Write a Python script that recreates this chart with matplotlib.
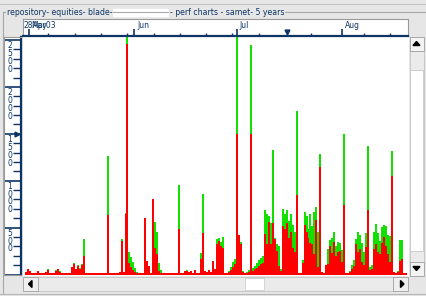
"""
Perf chart screen: stacked spikes with a date ruler on top and a value ruler on the left.
"""

import matplotlib
matplotlib.use("Agg")
import matplotlib.pyplot as plt
from matplotlib.patches import Rectangle, Polygon
import numpy as np


W, H = 426, 296
NAVY = "#0c3566"
RED = "#ff0000"
GREEN = "#11e000"
BG = "#e6e6e6"

# one sample every 14 hours, first one on 30 Apr 2003 06:00 (days after 1 May)
start_day = -0.75
step_day = 14 / 24.

total = [30, 55, 40, 20, 15, 15, 40, 15, 15, 15,
         30, 55, 20, 15, 15, 45, 60, 35, 20, 15,
         15, 15, 15, 80, 120, 60, 100, 70, 110, 376,
         20, 15, 15, 15, 15, 15, 15, 15, 15, 15,
         15, 1260, 15, 15, 15, 15, 15, 25, 380, 30,
         660, 2800, 240, 190, 130, 70, 25, 15, 15, 15,
         600, 140, 90, 20, 803, 555, 458, 120, 50, 15,
         15, 15, 15, 15, 15, 15, 15, 956, 15, 15,
         35, 45, 30, 40, 15, 50, 15, 20, 227, 860,
         40, 30, 50, 25, 145, 60, 380, 390, 350, 395,
         15, 15, 40, 80, 130, 170, 2800, 420, 350, 40,
         15, 30, 50, 2450, 70, 90, 120, 150, 180, 200,
         690, 650, 620, 550, 1330, 390, 330, 300, 60, 700,
         650, 690, 570, 640, 530, 450, 1740, 20, 15, 150,
         670, 620, 480, 650, 520, 670, 720, 450, 1280, 30,
         20, 100, 270, 370, 390, 450, 300, 350, 340, 260,
         1495, 20, 15, 40, 100, 150, 380, 450, 420, 340,
         240, 440, 1370, 80, 100, 450, 540, 440, 360, 510,
         530, 520, 420, 410, 1320, 30, 15, 40, 370, 370,
         15, 15]

part = [30, 55, 40, 20, 15, 15, 40, 15, 15, 15,
        30, 45, 20, 15, 15, 40, 55, 30, 20, 15,
        15, 15, 15, 80, 110, 60, 90, 60, 100, 202,
        20, 15, 15, 15, 15, 15, 15, 15, 15, 15,
        15, 630, 15, 15, 15, 15, 15, 25, 352, 30,
        640, 2460, 120, 80, 50, 25, 15, 15, 15, 15,
        600, 140, 90, 20, 803, 280, 220, 40, 20, 15,
        15, 15, 15, 15, 15, 15, 15, 483, 15, 15,
        35, 40, 30, 35, 15, 45, 15, 20, 170, 440,
        40, 30, 45, 25, 145, 60, 330, 360, 300, 280,
        15, 15, 25, 50, 80, 110, 1500, 420, 330, 30,
        15, 20, 30, 1500, 40, 55, 70, 90, 110, 120,
        430, 320, 560, 320, 546, 380, 250, 90, 40, 520,
        480, 550, 390, 450, 280, 240, 850, 20, 15, 120,
        530, 450, 390, 340, 320, 220, 580, 80, 1150, 30,
        20, 100, 110, 300, 230, 350, 200, 240, 250, 130,
        743, 20, 15, 30, 60, 90, 330, 240, 270, 130,
        100, 290, 690, 50, 60, 270, 330, 240, 220, 340,
        400, 300, 220, 130, 1050, 30, 15, 30, 140, 160,
        15, 15]

month_days = [0, 31, 61, 92]
month_names = ["May", "Jun", "Jul", "Aug"]
first_label = "28Apr03"
value_ticks = [0, 500, 1000, 1500, 2000, 2500]
marker_value = 1500
title_left = "repository- equities- blade-"
title_right = "- perf charts - samet- 5 years"

# screen geometry
PX_PER_DAY = 3.41
MAY1_PX = 28.6
ZERO_PX = 274.5
PX_PER_UNIT = 46.9 / 500
minor_px = [48.3, 74.6, 100.9, 127.2, 153.5, 179.8, 206.1, 232.4,
            258.7, 311.3, 363.9, 390.2]


def day_of(px):
    return (px - MAY1_PX) / PX_PER_DAY


def val_of(py):
    return (ZERO_PX - py) / PX_PER_UNIT


def axes_at(fig, x0, y0, x1, y1):
    """axes placed by screen pixels (top-left origin)"""
    return fig.add_axes([x0 / W, 1 - y1 / H, (x1 - x0) / W, (y1 - y0) / H])


def clean(ax):
    ax.set_xticks([])
    ax.set_yticks([])
    for s in ax.spines.values():
        s.set_visible(False)


def draw_frame(bg):
    """window chrome: group border, title, scrollbars"""
    bg.add_patch(Rectangle((0, 0), W, H, color=BG))
    bg.plot([0, W], [4, 4], color="#c4c4c4", lw=0.8)
    bg.plot([3, W], [12, 12], color="#a8a8a8", lw=0.8)
    bg.plot([3, 3], [12, 293], color="#a8a8a8", lw=0.8)
    bg.plot([0, W], [293.5, 293.5], color="#b4b4b4", lw=0.8)

    bg.text(7, 12.5, title_left, fontsize=5.6, color=NAVY, va="center",
            bbox=dict(facecolor=BG, edgecolor="none", pad=0.6))
    bg.add_patch(Rectangle((110, 9), 58, 7, color="white"))
    bg.text(170, 12.5, title_right, fontsize=5.6, color=NAVY, va="center",
            bbox=dict(facecolor=BG, edgecolor="none", pad=0.6))

    # horizontal scrollbar
    bg.add_patch(Rectangle((37, 277), 356, 14, facecolor="#ebebeb",
                           edgecolor="#c4c4c4", lw=0.6))
    bg.add_patch(Rectangle((245, 278), 19, 12, facecolor="white",
                           edgecolor="#d0d0d0", lw=0.6))
    for x in (23, 393):
        bg.add_patch(Rectangle((x, 277), 15, 14, facecolor="#efefef",
                               edgecolor="#a8a8a8", lw=0.7))
    bg.add_patch(Polygon([(28.5, 284), (32, 280.5), (32, 287.5)], color="black"))
    bg.add_patch(Polygon([(404, 284), (400.5, 280.5), (400.5, 287.5)], color="black"))

    # vertical scrollbar
    bg.add_patch(Rectangle((409.5, 51), 14, 211, facecolor="#ebebeb",
                           edgecolor="#c4c4c4", lw=0.6))
    bg.add_patch(Rectangle((410, 70), 13, 181, facecolor="white",
                           edgecolor="#c8c8c8", lw=0.6))
    for y in (37, 262):
        bg.add_patch(Rectangle((409.5, y), 14, 14, facecolor="#f4f4f4",
                               edgecolor="#a8a8a8", lw=0.7))
    bg.add_patch(Polygon([(416.5, 41.5), (413, 45.5), (420, 45.5)], color="black"))
    bg.add_patch(Polygon([(416.5, 270.5), (413, 266.5), (420, 266.5)], color="black"))


def main():
    fig = plt.figure(figsize=(W / 100, H / 100), dpi=100)

    bg = fig.add_axes([0, 0, 1, 1])
    bg.set_xlim(0, W)
    bg.set_ylim(H, 0)
    bg.axis("off")
    draw_frame(bg)

    # main plot
    ax = axes_at(fig, 23, 36, 409, 276)
    ax.set_facecolor("white")
    clean(ax)
    days = start_day + step_day * np.arange(len(total))
    ax.bar(days, total, width=step_day, color=GREEN, linewidth=0, antialiased=False)
    ax.bar(days, part, width=step_day, color=RED, linewidth=0, antialiased=False)
    ax.set_xlim(day_of(23), day_of(409))
    ax.set_ylim(val_of(276), val_of(36))

    # date ruler
    tax = axes_at(fig, 23, 19, 408, 36)
    tax.set_facecolor("white")
    tax.set_xlim(day_of(23), day_of(408))
    tax.set_ylim(0, 1)
    tax.set_yticks([])
    for s in ("left", "top", "right"):
        tax.spines[s].set_color("#9a9a9a")
        tax.spines[s].set_linewidth(0.8)
    tax.spines["bottom"].set_color(NAVY)
    tax.spines["bottom"].set_linewidth(1.6)
    tax.set_xticks(month_days)
    tax.set_xticks([day_of(p) for p in minor_px], minor=True)
    tax.tick_params(axis="x", which="major", direction="in", length=5,
                    width=1.2, color=NAVY, labelbottom=False)
    tax.tick_params(axis="x", which="minor", direction="in", length=2.2,
                    width=1.0, color=NAVY, labelbottom=False)
    tax.text(day_of(24), 0.62, first_label, fontsize=5.5, color=NAVY, va="center")
    for d, name in zip(month_days, month_names):
        tax.text(d + 0.9, 0.62, name, fontsize=5.5, color=NAVY, va="center")
    tax.plot(day_of(287), 0.25, marker="v", ms=3.5, color=NAVY)

    # value ruler
    lax = axes_at(fig, 4, 37, 21, 275)
    lax.set_facecolor("white")
    lax.set_xlim(0, 1)
    lax.set_ylim(val_of(275), val_of(37))
    lax.set_xticks([])
    for s in ("left", "top", "bottom"):
        lax.spines[s].set_color("#9a9a9a")
        lax.spines[s].set_linewidth(0.8)
    lax.spines["right"].set_color(NAVY)
    lax.spines["right"].set_linewidth(1.6)
    lax.yaxis.tick_right()
    lax.set_yticks(value_ticks)
    lax.set_yticks(np.arange(100, 2600, 100), minor=True)
    lax.tick_params(axis="y", which="major", direction="in", length=12,
                    width=1.2, color=NAVY, labelright=False)
    lax.tick_params(axis="y", which="minor", direction="in", length=5.5,
                    width=1.0, color=NAVY, labelright=False)
    for v in value_ticks[1:]:
        for j, ch in enumerate(str(v)):
            lax.text(0.32, v - (5.5 + 7.9 * j) / PX_PER_UNIT, ch, fontsize=5.5,
                     color=NAVY, ha="center", va="center")
    lax.plot(0.74, marker_value, marker=">", ms=3.5, color=NAVY)

    fig.savefig("out.png", dpi=100, facecolor=BG)


if __name__ == "__main__":
    main()
